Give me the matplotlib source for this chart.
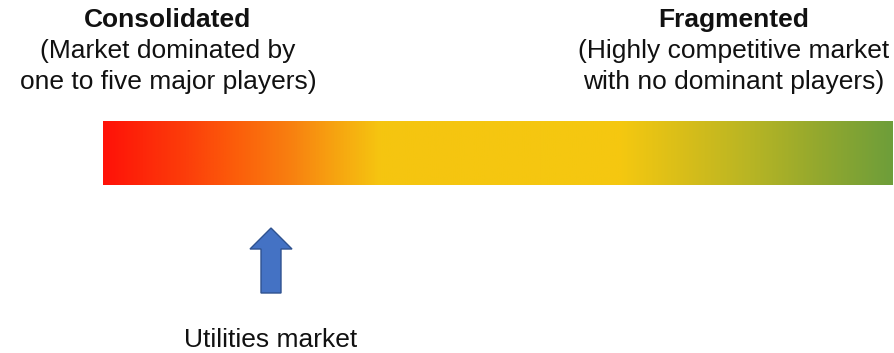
import numpy as np
import matplotlib
matplotlib.use("Agg")
import matplotlib.pyplot as plt
from matplotlib.colors import LinearSegmentedColormap
from matplotlib.patches import FancyArrow

plt.rcParams["font.family"] = ["Liberation Sans", "DejaVu Sans"]

# gradient stops (fraction along bar, colour)
stop_pos = [0.00, 0.10, 0.16, 0.237, 0.287, 0.35, 0.655, 0.743, 0.82, 0.908, 1.00]
stop_col = ["#FF1208", "#FC3C0A", "#FC5A0A", "#F88010", "#F7A010", "#F5C510",
            "#F5C810", "#D6BD1A", "#B8B524", "#93A82E", "#6E9E3A"]

left_title = "Consolidated"
left_lines = ["(Market dominated by", "one to five major players)"]
right_title = "Fragmented"
right_lines = ["(Highly competitive market", "with no dominant players)"]
marker_label = "Utilities market"

W, H = 895, 353
fig = plt.figure(figsize=(W / 100, H / 100), dpi=100)
ax = fig.add_axes([0, 0, 1, 1])
ax.set_xlim(0, W)
ax.set_ylim(H, 0)
ax.axis("off")

cmap = LinearSegmentedColormap.from_list("market", list(zip(stop_pos, stop_col)))
grad = np.linspace(0, 1, 512).reshape(1, -1)
ax.imshow(grad, cmap=cmap, aspect="auto", extent=[103, 893, 185, 121],
          interpolation="bilinear")

# text blocks
fs = 19
tc = "#111111"
ax.text(168, 27, left_title, ha="center", va="baseline", fontsize=fs,
        fontweight="bold", color=tc)
for i, s in enumerate(left_lines):
    ax.text(168, 58 + 31 * i, s, ha="center", va="baseline", fontsize=fs, color=tc)
ax.text(734, 27, right_title, ha="center", va="baseline", fontsize=fs,
        fontweight="bold", color=tc)
for i, s in enumerate(right_lines):
    ax.text(734, 58 + 31 * i, s, ha="center", va="baseline", fontsize=fs, color=tc)

# arrow marking the utilities market
arr = FancyArrow(271, 293, 0, -65, width=20, head_width=42, head_length=21,
                 length_includes_head=True, facecolor="#4472C4", edgecolor="#2F528F",
                 linewidth=1)
ax.add_patch(arr)
ax.text(271, 347, marker_label, ha="center", va="baseline", fontsize=fs, color=tc)

fig.savefig("out.png", dpi=100)
